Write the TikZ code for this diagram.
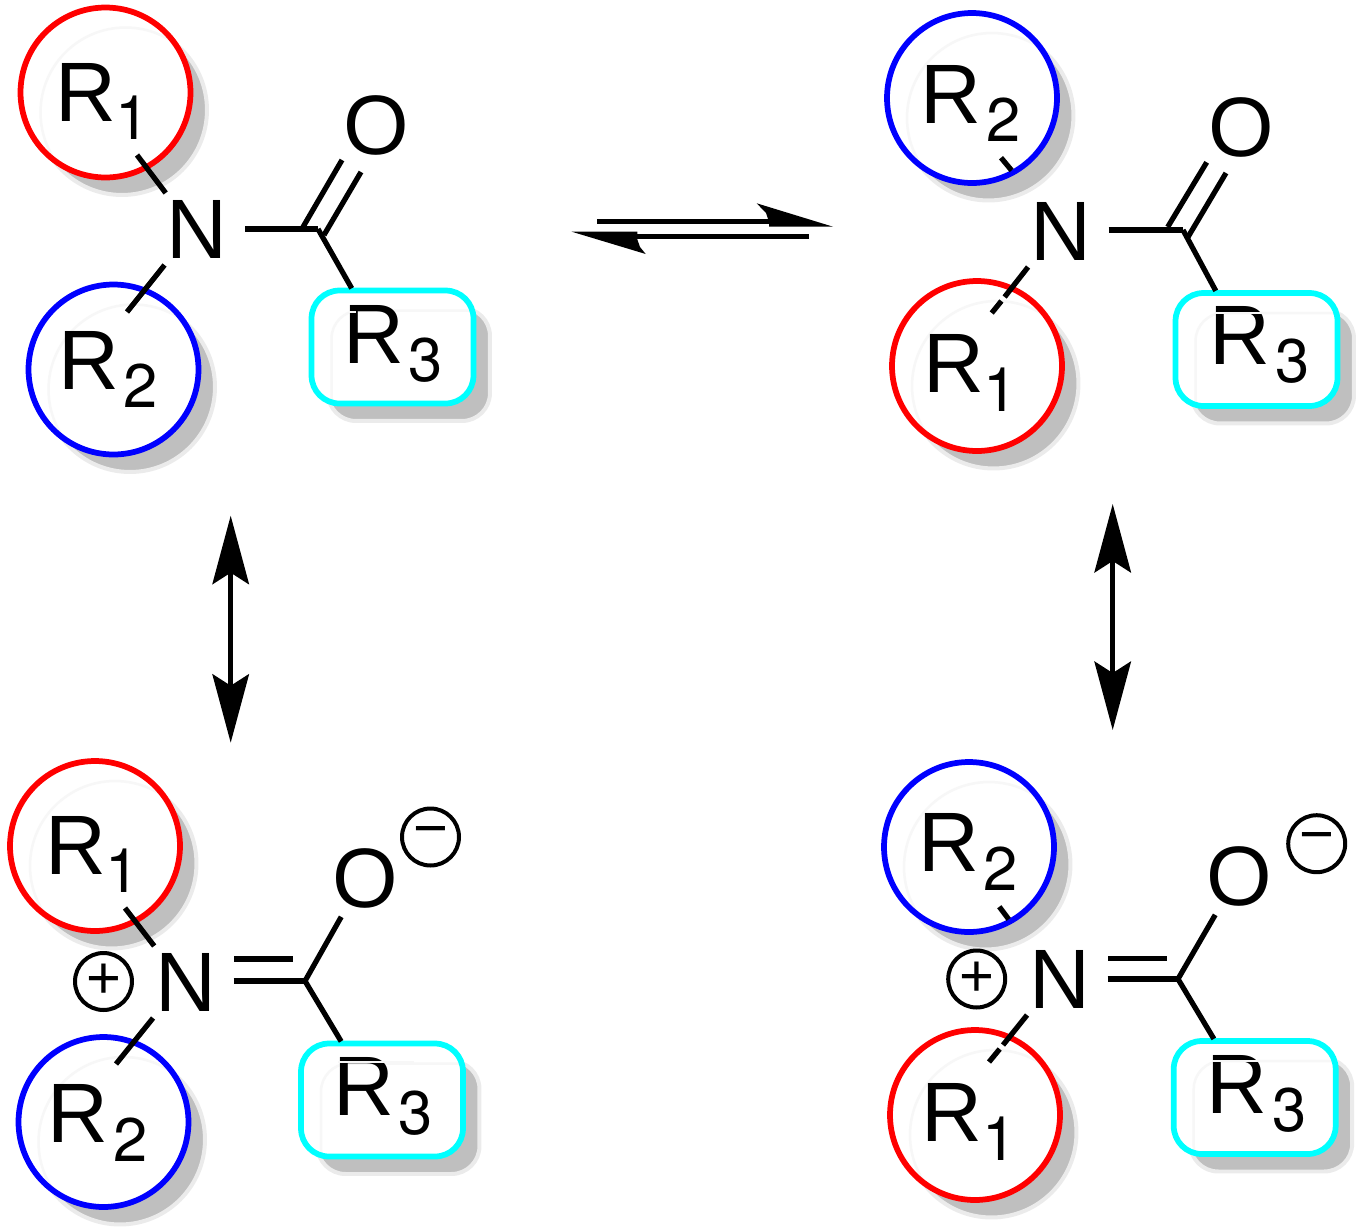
\documentclass[tikz,border=0pt]{standalone}
\usepackage{fontspec}
\setmainfont{Liberation Sans}
\newfontfamily\subfont{TeX Gyre Heros}
\usetikzlibrary{calc,arrows.meta,shadows}

\definecolor{aqua}{RGB}{0,255,255}
\newcommand{\Rsub}[2][0cm]{R\kern#1\raisebox{-.37cm}{\subfont\fontsize{35}{37}\selectfont #2}}

\begin{document}
\begin{tikzpicture}[x=0.02cm, y=-0.02cm,
	bond/.style={line width=0.105cm},
	eqm/.style={line width=0.105cm},
	dbl/.style={line width=0.09cm,{Stealth[length=1.37cm,width=0.73cm,inset=0.23cm]}-{Stealth[length=1.37cm,width=0.73cm,inset=0.23cm]}},
	ghost/.style={draw=black!3,line width=0.05cm},
	shade/.style={drop shadow={shadow xshift=0.33cm,shadow yshift=-0.35cm,opacity=1,fill=black!25,draw=black!8,line width=0.08cm}},
	ring/.style={circle,draw=#1,line width=0.115cm,fill=white,minimum size=3.4cm,inner sep=0,outer sep=0,shade,
		path picture={\draw [ghost] ($(path picture bounding box.center)+(0.4cm,-0.4cm)$) circle (1.7cm);}},
	tile/.style={rectangle,rounded corners=0.56cm,draw=aqua,line width=0.115cm,fill=white,minimum width=3.24cm,minimum height=2.26cm,inner sep=0,outer sep=0,shade,
		path picture={\draw [ghost,rounded corners=0.56cm] ($(path picture bounding box.south west)+(0.4cm,-0.4cm)$) rectangle ++(3.24cm,2.26cm);}},
	atomN/.style={inner xsep=0.354cm,inner ysep=0.14cm,outer sep=0,font=\fontsize{48}{50}\selectfont},
	atomO/.style={inner sep=0.18cm,outer sep=0,font=\fontsize{48}{50}\selectfont},
	lab/.style={anchor=base west,inner sep=0,outer sep=0,font=\fontsize{48}{50}\selectfont},
	charge/.style={circle,draw=black,line width=0.08cm,minimum size=1.14cm,inner sep=0,font=\fontsize{34}{36}\selectfont}]

    \useasboundingbox (0,0) rectangle (1370,1231);

    % top left
    \node (R1a) at (105.5,92.5) [ring=red] {};
    \node (R2a) at (113.5,369.5) [ring=blue] {};
    \node (R3a) at (392.5,347) [tile] {};
    \node (R1atxt) at (55,121) [lab] {\Rsub{1}};
    \node (R2atxt) at (58,389) [lab] {\Rsub[0.1cm]{2}};
    \node (R3atxt) at (343,363) [lab] {\Rsub[0.1cm]{3}};
    \node (Na) at (197,229) [atomN] {N};
    \node (Oa) at (376.5,125) [atomO] {O};
    \coordinate (Ca) at (318,229);
    \coordinate (b1a) at (137,155);
    \coordinate (b2a) at (127,312);
    \coordinate (d1a) at (303,227);
    \coordinate (d2a) at (342,160);
    \coordinate (d3a) at (324,235);
    \coordinate (d4a) at (361,172);
    \draw [bond] (Na.131) -- (b1a);
    \draw [bond] (Na.228) -- (b2a);
    \draw [bond] (Na.east |- Ca) -- (Ca);
    \draw [bond,shorten >=0.05cm] (Ca) -- (R3a.125.6);
    \draw [bond] (d1a) -- (d2a);
    \draw [bond] (d3a) -- (d4a);
    \draw [ghost] (349,312) -- (356,312);

    % top right
    \node (R2b) at (972,98) [ring=blue] {};
    \node (R1b) at (977,366) [ring=red] {};
    \node (R3b) at (1256.5,349.5) [tile] {};
    \node (R2btxt) at (920.3,123.3) [lab] {\Rsub[0.1cm]{2}};
    \node (R1btxt) at (923,392.7) [lab] {\Rsub{1}};
    \node (R3btxt) at (1209.7,364.3) [lab] {\Rsub[0.1cm]{3}};
    \node (Nb) at (1060.5,231) [atomN] {N};
    \node (Ob) at (1241.7,127) [atomO] {O};
    \coordinate (Cb) at (1183,230);
    \coordinate (b1b) at (1001,157.7);
    \coordinate (b2b) at (1004.6,297);
    \coordinate (b3b) at (1001.4,301);
    \coordinate (b4b) at (991.7,313);
    \coordinate (d1b) at (1167.7,227);
    \coordinate (d2b) at (1206.7,162.3);
    \coordinate (d3b) at (1188,237);
    \coordinate (d4b) at (1226,173);
    \draw [bond,shorten >=0.05cm] (b1b) -- (R2b.-61);
    \draw [bond] (Nb.228) -- (b2b);
    \draw [bond] (b3b) -- (b4b);
    \draw [bond] (Nb.east |- Cb) -- (Cb);
    \draw [bond,shorten >=0.05cm] (Cb) -- (R3b.125.6);
    \draw [bond] (d1b) -- (d2b);
    \draw [bond] (d3b) -- (d4b);
    \draw [ghost] (1215,313) -- (1290,313);

    % bottom left
    \node (R1c) at (95,846) [ring=red] {};
    \node (R2c) at (103.5,1122) [ring=blue] {};
    \node (R3c) at (382,1100) [tile] {};
    \node (R1ctxt) at (45,874) [lab] {\Rsub{1}};
    \node (R2ctxt) at (48,1142.7) [lab] {\Rsub[0.1cm]{2}};
    \node (R3ctxt) at (333,1115.7) [lab] {\Rsub[0.1cm]{3}};
    \node (Nc) at (185.5,982) [atomN] {N};
    \node (Oc) at (365.5,878) [atomO] {O};
    \node (Pc) at (103.5,981.5) [charge] {+};
    \node (Mc) at (430.5,837) [charge] {−};
    \coordinate (Cc) at (305,981);
    \coordinate (b1c) at (125,908);
    \coordinate (b2c) at (116,1064);
    \coordinate (t1c) at (234,959);
    \coordinate (t2c) at (293,959);
    \draw [bond] (Nc.131) -- (b1c);
    \draw [bond] (Nc.228) -- (b2c);
    \draw [bond] (t1c) -- (t2c);
    \draw [bond] (Nc.east |- Cc) -- (Cc);
    \draw [bond] (Cc) -- (Oc.238.5);
    \draw [bond,shorten >=0.05cm] (Cc) -- (R3c.125.6);
    \draw [ghost] (338,1062) -- (414,1062);

    % bottom right
    \node (R2d) at (969,847) [ring=blue] {};
    \node (R1d) at (975,1115) [ring=red] {};
    \node (R3d) at (1254.7,1097.5) [tile] {};
    \node (R2dtxt) at (918,871.7) [lab] {\Rsub[0.1cm]{2}};
    \node (R1dtxt) at (921.3,1141.7) [lab] {\Rsub{1}};
    \node (R3dtxt) at (1206.3,1113.3) [lab] {\Rsub[0.1cm]{3}};
    \node (Nd) at (1059.5,979) [atomN] {N};
    \node (Od) at (1239.5,876) [atomO] {O};
    \node (Pd) at (976.7,979) [charge] {+};
    \node (Md) at (1316.7,843.7) [charge] {−};
    \coordinate (Cd) at (1178,979);
    \coordinate (b1d) at (999.3,906.7);
    \coordinate (b2d) at (1003,1045);
    \coordinate (b3d) at (999.7,1049);
    \coordinate (b4d) at (989,1062);
    \coordinate (t1d) at (1108.3,958.3);
    \coordinate (t2d) at (1166.7,958.3);
    \draw [bond,shorten >=0.05cm] (b1d) -- (R2d.-61);
    \draw [bond] (Nd.228) -- (b2d);
    \draw [bond] (b3d) -- (b4d);
    \draw [bond] (t1d) -- (t2d);
    \draw [bond] (Nd.east |- Cd) -- (Cd);
    \draw [bond] (Cd) -- (Od.238.5);
    \draw [bond,shorten >=0.05cm] (Cd) -- (R3d.125.6);
    \draw [ghost] (1212,1061) -- (1288,1061);

    % equilibrium
    \coordinate (eqA) at (597,221.3);
    \coordinate (eqB) at (775,221.3);
    \coordinate (eqC) at (809,236.3);
    \coordinate (eqD) at (632,236.3);
    \draw [eqm] (eqA) -- (eqB);
    \draw [eqm] (eqC) -- (eqD);
    \fill (833,226.7) -- (756.7,203.3) -- (766,213) -- (769,222) -- (769,226.7) -- cycle;
    \fill (571.7,231.7) -- (637.3,231.7) -- (637.5,240) -- (640,247) -- (645.7,254) -- cycle;

    % resonance
    \coordinate (leftT) at (230.7,515.7);
    \coordinate (leftB) at (230.7,742.7);
    \coordinate (rightT) at (1112.7,504);
    \coordinate (rightB) at (1112.7,730);
    \draw [dbl] (leftT) -- (leftB);
    \draw [dbl] (rightT) -- (rightB);

\end{tikzpicture}
\end{document}
